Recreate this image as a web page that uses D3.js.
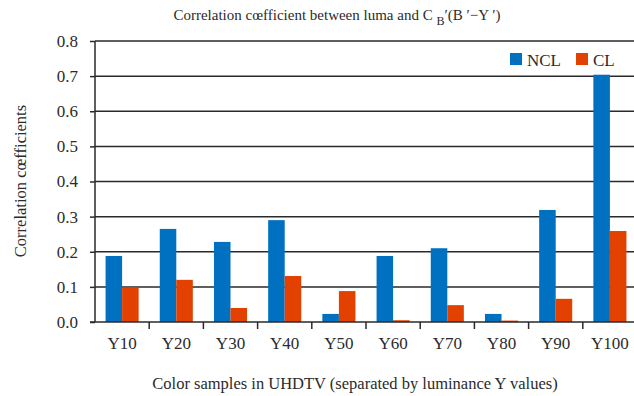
<!DOCTYPE html>
<html>
<head>
<meta charset="utf-8">
<script src="https://cdn.jsdelivr.net/npm/d3@7"></script>
<style>
  html, body { margin: 0; padding: 0; background: #fff; }
  svg { display: block; font-family: "Liberation Serif", "Times New Roman", serif; }
</style>
</head>
<body>
<svg id="chart" width="634" height="396"></svg>
<script>
// Sample groups (luminance levels)
const categories = ["Y10", "Y20", "Y30", "Y40", "Y50", "Y60", "Y70", "Y80", "Y90", "Y100"];
// Correlation coefficients per series
const seriesNames = ["NCL", "CL"];
const nclValues = [0.188, 0.265, 0.228, 0.290, 0.023, 0.188, 0.210, 0.023, 0.319, 0.704];
const clValues  = [0.098, 0.120, 0.040, 0.131, 0.088, 0.005, 0.048, 0.004, 0.066, 0.259];
const yTicks = [0, 0.1, 0.2, 0.3, 0.4, 0.5, 0.6, 0.7, 0.8];
const colors = ["#0070C0", "#E24100"];

const svg = d3.select("#chart");
const plotLeft = 95, plotRight = 637, plotTop = 41, plotBottom = 322;

const x = d3.scaleBand().domain(categories).range([plotLeft, plotRight]).paddingInner(0.39).paddingOuter(0.195);
const xOuter = d3.scaleBand().domain(categories).range([plotLeft, plotRight]);
const xSub = d3.scaleBand().domain(seriesNames).range([0, x.bandwidth()]);
const y = d3.scaleLinear().domain([0, 0.8]).range([plotBottom, plotTop]);

const textColor = "#2b2b2b";
const lineColor = "#2a2a2a";
const tickFont = 17;
const titleFont = 16.5;

// Horizontal gridlines
svg.append("g").selectAll("line").data(yTicks.slice(1)).join("line")
  .attr("x1", plotLeft).attr("x2", 634)
  .attr("y1", d => y(d)).attr("y2", d => y(d))
  .attr("stroke", lineColor).attr("stroke-width", 1.5);

// Bars
const table = categories.map((c, i) => ({ c, vals: [nclValues[i], clValues[i]] }));
const groups = svg.append("g").selectAll("g").data(table).join("g")
  .attr("transform", d => `translate(${x(d.c)},0)`);
groups.selectAll("rect").data(d => d.vals.map((v, k) => ({ v, k }))).join("rect")
  .attr("x", d => xSub(seriesNames[d.k]))
  .attr("width", xSub.bandwidth())
  .attr("y", d => y(d.v))
  .attr("height", d => y(0) - y(d.v))
  .attr("fill", d => colors[d.k]);

// Y axis
const yAxis = svg.append("g").attr("transform", `translate(${plotLeft},0)`)
  .call(d3.axisLeft(y).tickValues(yTicks).tickFormat(d3.format(".1f")).tickSize(5).tickPadding(12));
yAxis.select(".domain").attr("stroke", lineColor).attr("stroke-width", 1.5)
  .attr("d", `M0,${plotTop}V${plotBottom}`);
yAxis.selectAll(".tick line").attr("stroke", lineColor).attr("stroke-width", 1.5);
yAxis.selectAll("text").attr("fill", textColor).attr("font-size", tickFont)
  .attr("font-family", "Liberation Serif, serif");

// X axis baseline and band separators
svg.append("line").attr("x1", plotLeft - 5).attr("x2", 634)
  .attr("y1", plotBottom).attr("y2", plotBottom)
  .attr("stroke", lineColor).attr("stroke-width", 1.5);
svg.append("g").selectAll("line").data(categories.slice(1)).join("line")
  .attr("x1", d => xOuter(d)).attr("x2", d => xOuter(d))
  .attr("y1", plotBottom).attr("y2", plotBottom + 7)
  .attr("stroke", lineColor).attr("stroke-width", 1.5);
svg.append("g").selectAll("text").data(categories).join("text")
  .attr("x", d => xOuter(d) + xOuter.bandwidth() / 2)
  .attr("y", 349)
  .attr("text-anchor", "middle")
  .attr("font-size", tickFont).attr("fill", textColor)
  .text(d => d);

// Axis titles
svg.append("text").attr("x", 355).attr("y", 389).attr("text-anchor", "middle")
  .attr("font-size", titleFont).attr("fill", textColor)
  .text("Color samples in UHDTV (separated by luminance Y values)");
svg.append("text").attr("transform", "translate(26,181) rotate(-90)")
  .attr("text-anchor", "middle").attr("font-size", titleFont).attr("fill", textColor)
  .text("Correlation cœfficients");

// Title
const title = svg.append("text").attr("x", 337).attr("y", 20).attr("text-anchor", "middle")
  .attr("font-size", 15).attr("fill", textColor);
title.append("tspan").text("Correlation cœfficient between luma and C ");
title.append("tspan").attr("font-size", 12).attr("dy", 5).text("B");
title.append("tspan").attr("dy", -5).text("′(B ′−Y ′)");

// Legend
const legend = svg.append("g").selectAll("g").data(seriesNames).join("g")
  .attr("transform", (d, i) => `translate(${[510, 576][i]},53)`);
legend.append("rect").attr("width", 12).attr("height", 12).attr("fill", (d, i) => colors[i]);
legend.append("text").attr("x", 17).attr("y", 12.5).attr("font-size", tickFont)
  .attr("fill", textColor).text(d => d);
</script>
</body>
</html>
